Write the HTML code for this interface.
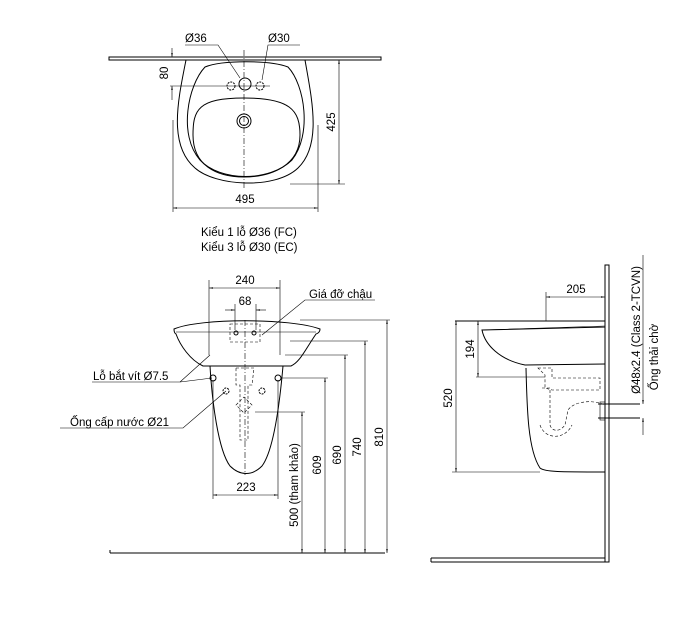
<!DOCTYPE html>
<html><head><meta charset="utf-8"><style>
html,body{margin:0;padding:0;background:#fff;}
svg{display:block;}
text{font-family:"Liberation Sans",sans-serif;font-size:11.5px;fill:#000;}
</style></head><body>
<svg width="700" height="627" viewBox="0 0 700 627" xmlns="http://www.w3.org/2000/svg">
<defs>
<marker id="a" viewBox="0 0 10 10" refX="10" refY="5" markerWidth="7" markerHeight="7" orient="auto-start-reverse"><path d="M0,3 L10,5 L0,7 z" fill="#000"/></marker>
</defs>
<g fill="none" stroke="#000" stroke-width="1">
<!-- TOP VIEW -->
<rect x="109" y="57" width="272" height="3"/>
<path d="M186,60 C178,100 168,145 195,168 C215,186 275,190 298,168 C322,145 312,100 305,60"/>
<path d="M205,67 C188,85 178,135 200,160 C220,182 270,182 292,160 C312,135 305,85 288,67 C270,60 222,60 205,67 Z"/>
<path d="M244,98 C290,98 300,110 300,135 C300,165 272,177 244,177 C216,177 193,165 193,135 C193,110 198,98 244,98 Z"/>
<circle cx="244" cy="121" r="7"/><circle cx="244" cy="121" r="4.5"/>
<circle cx="245" cy="84" r="6"/>
<circle cx="231" cy="86" r="4" stroke-dasharray="2,1"/><circle cx="260" cy="86" r="4" stroke-dasharray="2,1"/>
<line x1="244" y1="50" x2="244" y2="190" stroke-width="0.6" stroke-dasharray="6,2,1,2"/>
<line x1="170" y1="86" x2="270" y2="86" stroke-width="0.6"/>
<line x1="173" y1="120" x2="173" y2="212" stroke-width="0.6"/>
<line x1="318" y1="125" x2="318" y2="212" stroke-width="0.6"/>
<line x1="173" y1="208" x2="318" y2="208" marker-start="url(#a)" marker-end="url(#a)" stroke-width="0.6"/>
<line x1="305" y1="60" x2="345" y2="60" stroke-width="0.6"/>
<line x1="290" y1="184" x2="345" y2="184" stroke-width="0.6"/>
<line x1="339" y1="60" x2="339" y2="184" marker-start="url(#a)" marker-end="url(#a)" stroke-width="0.6"/>
<line x1="172" y1="48" x2="172" y2="57" marker-end="url(#a)" stroke-width="0.6"/>
<line x1="172" y1="100" x2="172" y2="86" marker-end="url(#a)" stroke-width="0.6"/>
<polyline points="185,45 218,45 240,78" stroke-width="0.6"/>
<polyline points="300,45 268,45 262,80" stroke-width="0.6"/>

<!-- FRONT VIEW -->
<path d="M174,329 C200,318 290,318 320,329 C320,333 316,334 316,334 C305,350 300,362 291,366 L203,366 C190,360 180,345 176,334 C174,333 174,329 174,329 Z"/>
<line x1="176" y1="332" x2="316" y2="332" stroke-width="0.6"/>
<path d="M210,366 C212,400 218,450 230,466 C240,476 252,476 262,466 C274,450 280,400 283,366"/>
<rect x="230" y="324" width="30" height="18" stroke-dasharray="3,2" stroke-width="0.6"/>
<circle cx="236" cy="333" r="2"/><circle cx="254" cy="333" r="2"/>
<circle cx="213" cy="378" r="3"/><circle cx="278" cy="378" r="3"/>
<circle cx="226" cy="391" r="3" stroke-dasharray="2,1"/><circle cx="262" cy="391" r="3" stroke-dasharray="2,1"/>
<path d="M236,368 L254,368 L252,385 L248,385 L248,440 L240,440 L240,385 L236,385 Z" stroke-dasharray="3,2" stroke-width="0.6"/>
<path d="M236,405 L244,397 L252,405 L244,413 Z" stroke-dasharray="3,2" stroke-width="0.6"/>
<line x1="245" y1="320" x2="245" y2="475" stroke-width="0.6" stroke-dasharray="6,2,1,2"/>
<line x1="209" y1="280" x2="209" y2="355" stroke-width="0.6"/>
<line x1="280" y1="280" x2="280" y2="355" stroke-width="0.6"/>
<line x1="209" y1="288" x2="280" y2="288" marker-start="url(#a)" marker-end="url(#a)" stroke-width="0.6"/>
<line x1="235" y1="304" x2="235" y2="330" stroke-width="0.6"/>
<line x1="256" y1="304" x2="256" y2="330" stroke-width="0.6"/>
<line x1="225" y1="310" x2="235" y2="310" marker-end="url(#a)" stroke-width="0.6"/>
<line x1="266" y1="310" x2="256" y2="310" marker-end="url(#a)" stroke-width="0.6"/>
<line x1="213" y1="380" x2="213" y2="499" stroke-width="0.6"/>
<line x1="278" y1="380" x2="278" y2="499" stroke-width="0.6"/>
<line x1="213" y1="495" x2="278" y2="495" marker-start="url(#a)" marker-end="url(#a)" stroke-width="0.6"/>
<line x1="110" y1="553" x2="385" y2="553"/>
<line x1="110" y1="553" x2="110" y2="550" />
<line x1="255" y1="412" x2="305" y2="412" stroke-width="0.6"/>
<line x1="302" y1="412" x2="302" y2="553" marker-start="url(#a)" marker-end="url(#a)" stroke-width="0.6"/>
<line x1="282" y1="378" x2="328" y2="378" stroke-width="0.6"/>
<line x1="325" y1="378" x2="325" y2="553" marker-start="url(#a)" marker-end="url(#a)" stroke-width="0.6"/>
<line x1="285" y1="355" x2="348" y2="355" stroke-width="0.6"/>
<line x1="345" y1="355" x2="345" y2="553" marker-start="url(#a)" marker-end="url(#a)" stroke-width="0.6"/>
<line x1="290" y1="341" x2="368" y2="341" stroke-width="0.6"/>
<line x1="365" y1="341" x2="365" y2="553" marker-start="url(#a)" marker-end="url(#a)" stroke-width="0.6"/>
<line x1="300" y1="320" x2="390" y2="320" stroke-width="0.6"/>
<line x1="387" y1="320" x2="387" y2="553" marker-start="url(#a)" marker-end="url(#a)" stroke-width="0.6"/>
<polyline points="375,300 305,300 262,335" stroke-width="0.6"/>
<polyline points="92,382 180,382 210,355" stroke-width="0.6"/>
<line x1="180" y1="382" x2="212" y2="378" stroke-width="0.6"/>
<polyline points="60,428 183,428 226,391" stroke-width="0.6"/>

<!-- SIDE VIEW -->
<rect x="605" y="265" width="4" height="297"/>
<line x1="431" y1="558" x2="605" y2="558"/>
<line x1="431" y1="562" x2="609" y2="562"/>
<line x1="431" y1="558" x2="431" y2="562"/>
<path d="M455,321 L605,321 L605,327 L482,330 C485,345 500,360 525,365 L605,364"/>
<line x1="482" y1="330" x2="605" y2="326" stroke-width="0.6"/>
<path d="M526,368 C527,410 528,450 540,468 C545,472 560,472 605,472"/>
<path d="M538,368 L552,368 L552,378 L600,378 L600,390 L552,390 L545,388 L545,375 Z" stroke-width="0.6" stroke-dasharray="3,2"/>
<path d="M542,388 L550,388 L550,425 C552,432 560,432 565,425 L568,410 C575,400 595,400 605,405" stroke-width="0.6" stroke-dasharray="3,2"/>
<path d="M540,425 C545,440 565,440 572,425" stroke-width="0.6" stroke-dasharray="3,2"/>
<line x1="598" y1="404" x2="640" y2="404"/>
<line x1="598" y1="418" x2="640" y2="418"/>
<rect x="600" y="402" width="5" height="18" stroke-width="0.6"/>
<line x1="546" y1="292" x2="546" y2="321" stroke-width="0.6"/>
<line x1="546" y1="297" x2="605" y2="297" marker-start="url(#a)" marker-end="url(#a)" stroke-width="0.6"/>
<line x1="452" y1="472" x2="540" y2="472" stroke-width="0.6"/>
<line x1="456" y1="321" x2="456" y2="472" marker-start="url(#a)" marker-end="url(#a)" stroke-width="0.6"/>
<line x1="476" y1="377" x2="545" y2="377" stroke-width="0.6"/>
<line x1="478" y1="321" x2="478" y2="377" marker-start="url(#a)" marker-end="url(#a)" stroke-width="0.6"/>
<line x1="643" y1="255" x2="643" y2="404" marker-end="url(#a)" stroke-width="0.6"/>
<line x1="643" y1="435" x2="643" y2="418" marker-end="url(#a)" stroke-width="0.6"/>
</g>
<!-- TEXT -->
<text x="185" y="42">Ø36</text>
<text x="268" y="42">Ø30</text>
<text x="168" y="73" text-anchor="middle" transform="rotate(-90 168 73)">80</text>
<text x="245" y="203" text-anchor="middle">495</text>
<text x="335" y="122" text-anchor="middle" transform="rotate(-90 335 122)">425</text>
<text x="201" y="236">Kiểu 1 lỗ Ø36 (FC)</text>
<text x="201" y="251">Kiểu 3 lỗ Ø30 (EC)</text>
<text x="245" y="284" text-anchor="middle">240</text>
<text x="245" y="305" text-anchor="middle">68</text>
<text x="309" y="298">Giá đỡ chậu</text>
<text x="93" y="380">Lỗ bắt vít Ø7.5</text>
<text x="70" y="426">Ống cấp nước Ø21</text>
<text x="246" y="491" text-anchor="middle">223</text>
<text x="298" y="485" text-anchor="middle" transform="rotate(-90 298 485)">500 (tham khảo)</text>
<text x="321" y="465" text-anchor="middle" transform="rotate(-90 321 465)">609</text>
<text x="341" y="455" text-anchor="middle" transform="rotate(-90 341 455)">690</text>
<text x="361" y="447" text-anchor="middle" transform="rotate(-90 361 447)">740</text>
<text x="383" y="437" text-anchor="middle" transform="rotate(-90 383 437)">810</text>
<text x="576" y="293" text-anchor="middle">205</text>
<text x="474" y="349" text-anchor="middle" transform="rotate(-90 474 349)">194</text>
<text x="452" y="398" text-anchor="middle" transform="rotate(-90 452 398)">520</text>
<text x="640" y="330" text-anchor="middle" transform="rotate(-90 640 330)">Ø48x2.4 (Class 2-TCVN)</text>
<text x="658" y="357" text-anchor="middle" transform="rotate(-90 658 357)">Ống thải chờ</text>
</svg>
</body></html>
